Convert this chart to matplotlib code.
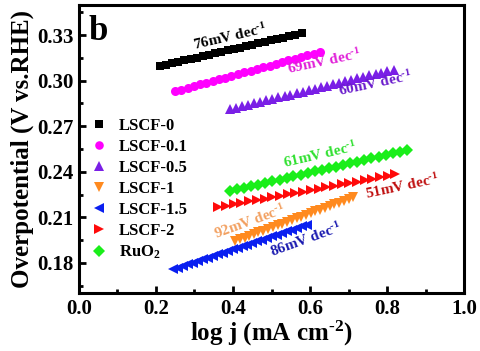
import matplotlib
matplotlib.use("Agg")
import matplotlib.pyplot as plt
from matplotlib.ticker import MultipleLocator

plt.rcParams["font.family"] = ["Liberation Serif", "DejaVu Serif"]
plt.rcParams["font.weight"] = "bold"
plt.rcParams["mathtext.fontset"] = "custom"
plt.rcParams["mathtext.rm"] = "Liberation Serif:bold"
plt.rcParams["mathtext.bf"] = "Liberation Serif:bold"
plt.rcParams["mathtext.it"] = "Liberation Serif:bold"
plt.rcParams["mathtext.default"] = "bf"

# Tafel data (log j, overpotential)
lscf0_x = [0.21, 0.226, 0.242, 0.258, 0.274, 0.29, 0.306, 0.322, 0.338, 0.354, 0.37, 0.386,
           0.402, 0.418, 0.434, 0.45, 0.466, 0.482, 0.498, 0.514, 0.53, 0.546, 0.562, 0.578]
lscf0_y = [0.3096, 0.3105, 0.3115, 0.3124, 0.3134, 0.3143, 0.3153, 0.3162, 0.3172, 0.3181, 0.3190, 0.3200,
           0.3209, 0.3219, 0.3228, 0.3238, 0.3247, 0.3257, 0.3266, 0.3275, 0.3285, 0.3294, 0.3304, 0.3313]

lscf01_x = [0.249, 0.265, 0.282, 0.298, 0.315, 0.331, 0.347, 0.364, 0.380, 0.396, 0.413, 0.429,
            0.446, 0.462, 0.478, 0.495, 0.511, 0.528, 0.544, 0.560, 0.577, 0.593, 0.610, 0.626]
lscf01_y = [0.2931, 0.2942, 0.2954, 0.2965, 0.2976, 0.2987, 0.2999, 0.3010, 0.3021, 0.3032, 0.3044, 0.3055,
            0.3066, 0.3078, 0.3089, 0.3100, 0.3111, 0.3123, 0.3134, 0.3145, 0.3156, 0.3168, 0.3179, 0.3190]

lscf05_x = [0.392, 0.408, 0.423, 0.439, 0.455, 0.471, 0.486, 0.502, 0.518, 0.534, 0.549, 0.565, 0.581, 0.597,
            0.612, 0.628, 0.644, 0.660, 0.675, 0.691, 0.707, 0.722, 0.738, 0.754, 0.770, 0.785, 0.801, 0.817]
lscf05_y = [0.2812, 0.2822, 0.2832, 0.2841, 0.2851, 0.2861, 0.2870, 0.2880, 0.2890, 0.2899, 0.2909, 0.2919, 0.2928, 0.2938,
            0.2948, 0.2957, 0.2967, 0.2977, 0.2986, 0.2996, 0.3006, 0.3016, 0.3025, 0.3035, 0.3045, 0.3054, 0.3064, 0.3074]

lscf1_x = [0.405, 0.417, 0.430, 0.442, 0.454, 0.466, 0.479, 0.491, 0.503, 0.516, 0.528, 0.540, 0.552,
           0.565, 0.577, 0.589, 0.602, 0.614, 0.626, 0.638, 0.651, 0.663, 0.675, 0.688, 0.700, 0.712]
lscf1_y = [0.1942, 0.1954, 0.1965, 0.1977, 0.1988, 0.2000, 0.2012, 0.2023, 0.2035, 0.2046, 0.2058, 0.2070, 0.2081,
           0.2093, 0.2104, 0.2116, 0.2128, 0.2139, 0.2151, 0.2162, 0.2174, 0.2186, 0.2197, 0.2209, 0.2220, 0.2232]

lscf15_x = [0.245, 0.258, 0.271, 0.283, 0.296, 0.309, 0.322, 0.335, 0.348, 0.360, 0.373, 0.386, 0.399, 0.412,
            0.425, 0.437, 0.450, 0.463, 0.476, 0.489, 0.501, 0.514, 0.527, 0.540, 0.553, 0.566, 0.578, 0.591]
lscf15_y = [0.1756, 0.1767, 0.1778, 0.1789, 0.1800, 0.1811, 0.1822, 0.1833, 0.1844, 0.1855, 0.1866, 0.1877, 0.1888, 0.1898,
            0.1909, 0.1920, 0.1931, 0.1942, 0.1953, 0.1964, 0.1975, 0.1986, 0.1997, 0.2008, 0.2019, 0.2030, 0.2041, 0.2052]

lscf2_x = [0.362, 0.382, 0.402, 0.422, 0.442, 0.462, 0.482, 0.502, 0.522, 0.542, 0.562, 0.582,
           0.602, 0.622, 0.642, 0.662, 0.682, 0.702, 0.722, 0.742, 0.762, 0.782, 0.802, 0.821]
lscf2_y = [0.2166, 0.2175, 0.2185, 0.2194, 0.2204, 0.2213, 0.2222, 0.2232, 0.2241, 0.2251, 0.2260, 0.2269,
           0.2279, 0.2288, 0.2298, 0.2307, 0.2316, 0.2326, 0.2335, 0.2345, 0.2354, 0.2363, 0.2373, 0.2382]

ruo2_x = [0.392, 0.410, 0.429, 0.447, 0.466, 0.484, 0.502, 0.521, 0.539, 0.557, 0.576, 0.594, 0.613,
          0.631, 0.649, 0.668, 0.686, 0.704, 0.723, 0.741, 0.759, 0.778, 0.796, 0.815, 0.833, 0.851]
ruo2_y = [0.2272, 0.2283, 0.2294, 0.2304, 0.2315, 0.2326, 0.2337, 0.2348, 0.2359, 0.2369, 0.2380, 0.2391, 0.2402,
          0.2413, 0.2423, 0.2434, 0.2445, 0.2456, 0.2467, 0.2477, 0.2488, 0.2499, 0.2510, 0.2521, 0.2531, 0.2542]

labels = ["LSCF-0", "LSCF-0.1", "LSCF-0.5", "LSCF-1", "LSCF-1.5", "LSCF-2", "RuO$_2$"]
slope_text = ["76", "69", "60", "92", "86", "51", "61"]
slope_pos = [(0.392, 0.3287), (0.636, 0.3125), (0.769, 0.2985), (0.444, 0.2074),
             (0.590, 0.1952), (0.839, 0.2305), (0.626, 0.2512)]

series = [(lscf0_x, lscf0_y), (lscf01_x, lscf01_y), (lscf05_x, lscf05_y), (lscf1_x, lscf1_y),
          (lscf15_x, lscf15_y), (lscf2_x, lscf2_y), (ruo2_x, ruo2_y)]
markers = ["s", "o", "^", "v", "<", ">", "D"]
colors = ["#000000", "#ff00ff", "#7a1fe6", "#ff8a1f", "#0a1ff0", "#ff0a0a", "#1aee1a"]
text_colors = ["#000000", "#e020d8", "#6a1ccc", "#f2a060", "#1a1ab0", "#c01010", "#30e030"]
sizes = [6, 6.5, 7, 7, 7, 7, 6]
rotations = [13, 12, 12, 20, 20, 12, 13]

fig = plt.figure(figsize=(4.81, 3.51), dpi=100)
ax = fig.add_axes([0.164, 0.165, 0.801, 0.821])

for (x, y), m, c, s, lab in zip(series, markers, colors, sizes, labels):
    ax.plot(x, y, linestyle="none", marker=m, color=c, markersize=s,
            markeredgewidth=0, label=lab)

for (tx, ty), t, c, r in zip(slope_pos, slope_text, text_colors, rotations):
    ax.text(tx, ty, t + r"mV dec$^{\text{-1}}$", color=c, fontsize=11, fontweight="bold",
            rotation=r, rotation_mode="anchor", ha="center", va="center")

ax.text(0.025, 0.965, "b", transform=ax.transAxes, fontsize=25, fontweight="bold",
        ha="left", va="top")

ax.set_xlim(0, 1.0)
ax.set_ylim(0.16, 0.35)
ax.xaxis.set_minor_locator(MultipleLocator(0.1))
ax.yaxis.set_minor_locator(MultipleLocator(0.015))
ax.set_xticks([0.0, 0.2, 0.4, 0.6, 0.8, 1.0])
ax.set_xticklabels(["0.0", "0.2", "0.4", "0.6", "0.8", "1.0"])
ax.set_yticks([0.18, 0.21, 0.24, 0.27, 0.30, 0.33])
ax.set_yticklabels(["0.18", "0.21", "0.24", "0.27", "0.30", "0.33"])
ax.tick_params(which="major", direction="in", length=5, width=2, labelsize=15, pad=4)
ax.tick_params(which="minor", direction="in", length=3, width=2)
ax.tick_params(axis="x", which="both", top=False)
ax.tick_params(axis="y", which="both", right=False)
for sp in ax.spines.values():
    sp.set_linewidth(2.2)

ax.set_xlabel(r"log j (mA cm$^{\text{-2}}$)", fontsize=18, fontweight="bold", labelpad=0)
ax.set_ylabel("Overpotential (V vs.RHE)", fontsize=18, fontweight="bold", labelpad=2)

ax.legend(loc="lower left", frameon=False, fontsize=12, handletextpad=0.6,
          labelspacing=0.3, borderaxespad=0.2, handlelength=1.2, markerscale=0.95,
          bbox_to_anchor=(0.0, 0.075))

fig.savefig("out.png", dpi=100)
